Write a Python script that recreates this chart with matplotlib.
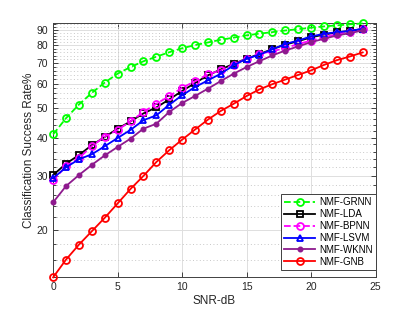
"""Classification success rate vs SNR for NMF-based classifiers."""

import matplotlib

matplotlib.use("Agg")
import matplotlib.pyplot as plt  # noqa: E402
from matplotlib.ticker import FixedLocator, NullFormatter  # noqa: E402

snr_db = list(range(25))

grnn = [41.0, 46.3, 51.3, 56.0, 60.5, 64.7, 68.0, 71.0, 73.5, 76.0, 78.3, 80.2, 81.8,
        83.5, 84.8, 86.3, 87.4, 88.4, 89.5, 90.4, 91.4, 92.3, 93.0, 93.7, 94.4]
lda = [30.2, 32.9, 35.1, 37.8, 40.2, 42.8, 45.2, 48.0, 50.2, 53.3, 56.8, 60.3, 63.9,
       66.8, 69.7, 72.4, 75.0, 77.8, 80.5, 82.6, 85.0, 86.8, 88.2, 89.2, 90.5]
bpnn = [29.0, 32.3, 34.3, 37.5, 40.3, 42.4, 45.2, 48.5, 51.6, 54.6, 58.2, 61.1, 64.4,
        66.3, 69.3, 72.4, 75.2, 76.5, 78.5, 80.8, 83.0, 85.1, 87.1, 88.7, 90.7]
lsvm = [29.5, 32.0, 34.0, 35.3, 37.5, 39.9, 42.4, 45.6, 47.3, 51.2, 55.0, 58.5, 61.5,
        64.7, 68.9, 72.4, 74.6, 77.7, 80.9, 83.0, 85.6, 87.3, 88.4, 89.2, 90.7]
wknn = [24.6, 27.8, 30.2, 32.6, 35.0, 37.3, 39.7, 42.8, 44.4, 48.5, 51.9, 54.7, 57.8,
        61.2, 64.7, 68.0, 71.1, 74.2, 77.0, 79.4, 82.0, 84.1, 86.2, 87.7, 89.5]
gnb = [14.0, 16.0, 17.9, 19.8, 21.9, 24.4, 27.2, 30.0, 33.3, 36.4, 39.4, 42.5, 45.8,
       48.9, 51.6, 54.7, 57.5, 59.8, 61.9, 64.1, 66.3, 69.1, 71.6, 73.6, 75.9]

y_major = [20, 30, 40, 50, 60, 70, 80, 90]
y_minor = [v for v in range(14, 95, 2) if v not in y_major]

plt.rcParams["font.family"] = ["Liberation Sans", "DejaVu Sans"]
txt = "#262626"

fig = plt.figure(figsize=(4.15, 3.12), dpi=100)
ax = fig.add_axes([0.128, 0.111, 0.777, 0.814])

styles = [
    ("NMF-GRNN", grnn, "#00ff00", "--", "o", "none", 5.0),
    ("NMF-LDA", lda, "black", "-", "s", "none", 4.2),
    ("NMF-BPNN", bpnn, "#ff00ff", "--", "o", "none", 5.0),
    ("NMF-LSVM", lsvm, "#0000ff", "-", "^", "none", 5.0),
    ("NMF-WKNN", wknn, "#8e1a8e", "-", "o", "#8e1a8e", 3.0),
    ("NMF-GNB", gnb, "#ff0000", "-", "o", "none", 5.0),
]
for name, vals, col, ls, mk, mfc, ms in styles:
    ax.plot(snr_db, vals, color=col, linestyle=ls, linewidth=1.3, marker=mk,
            markersize=ms, markerfacecolor=mfc, markeredgewidth=1.3,
            label=name, clip_on=False, zorder=3)

ax.set_yscale("log")
ax.set_xlim(0, 25)
ax.set_ylim(14.0, 94.4)
ax.set_xticks([0, 5, 10, 15, 20, 25])
ax.yaxis.set_major_locator(FixedLocator(y_major))
ax.yaxis.set_minor_locator(FixedLocator(y_minor))
ax.set_yticklabels([str(v) for v in y_major])
ax.yaxis.set_minor_formatter(NullFormatter())

ax.grid(True, which="major", color="#dedede", linewidth=0.7, linestyle="-")
ax.grid(True, which="minor", axis="y", color="#c8c8c8", linewidth=0.7,
        linestyle=(0, (1, 2.5)))
ax.set_axisbelow(True)

ax.tick_params(which="both", direction="in", top=True, right=True,
               labelsize=7.5, colors=txt, width=0.6)
ax.tick_params(which="major", length=3.5)
ax.tick_params(which="minor", length=2)
for s in ax.spines.values():
    s.set_color("#404040")
    s.set_linewidth(0.7)

ax.set_xlabel("SNR-dB", fontsize=8.5, color=txt, labelpad=2)
ax.set_ylabel("Classification Success Rate%", fontsize=8.5, color=txt, labelpad=1)

leg = ax.legend(loc="lower right", bbox_to_anchor=(1.0, 0.03), borderaxespad=0,
                fontsize=7, handlelength=3.2, handletextpad=0.4,
                labelspacing=0.2, borderpad=0.3, fancybox=False, framealpha=1)
leg.get_frame().set_edgecolor("#404040")
leg.get_frame().set_linewidth(0.7)

fig.savefig("out.png", dpi=100)
plt.close(fig)
